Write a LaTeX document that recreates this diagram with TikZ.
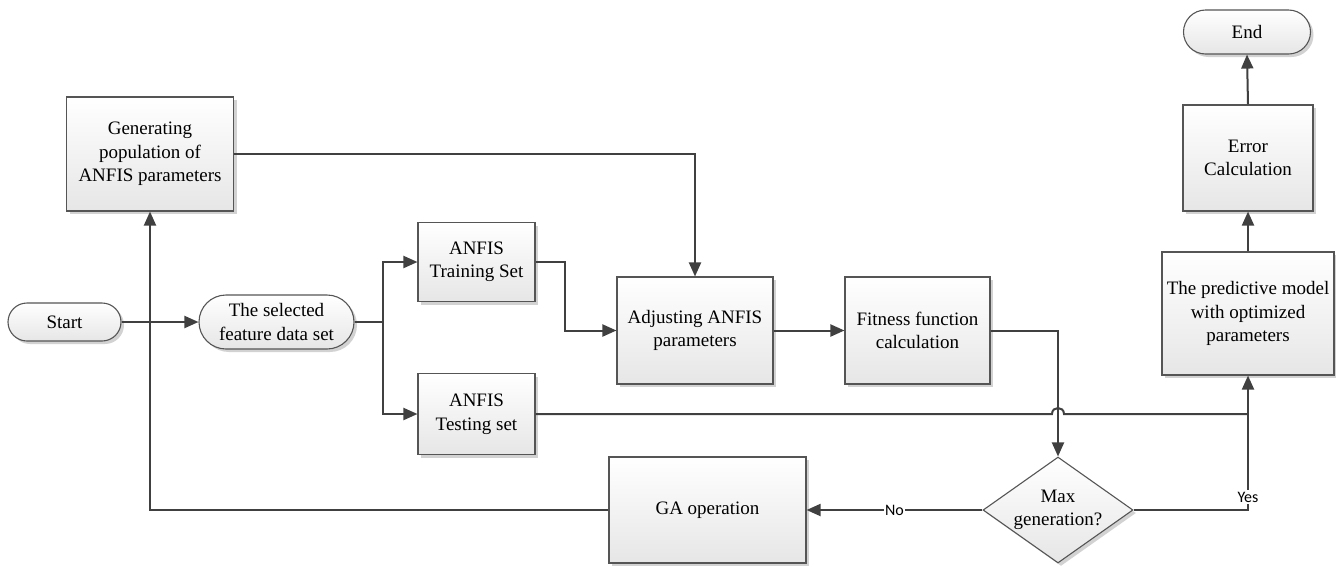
\documentclass[tikz,border=0pt]{standalone}
\usepackage{fontspec}
\setmainfont{Liberation Serif}
\newfontfamily\serifbody{Liberation Serif}
\newfontfamily\labelfont{Carlito}
\usetikzlibrary{arrows.meta,shapes.geometric,shadows}

\definecolor{boxline}{HTML}{555555}
\definecolor{boxfill}{HTML}{E6E6E6}
\definecolor{linecol}{HTML}{404040}

\tikzset{
  base/.style={draw=boxline, line width=1.1pt, top color=white, bottom color=boxfill,
    drop shadow={shadow xshift=3pt, shadow yshift=-3pt, fill=black!35, opacity=.5},
    align=center, inner sep=0pt, font=\serifbody\fontsize{19}{23.5}\selectfont},
  proc/.style={base, rectangle},
  term/.style={base, rectangle, rounded corners=#1},
  decision/.style={base, diamond, aspect=1.415},
  link/.style={line width=2pt, draw=linecol},
  arr/.style={link, -{Triangle[length=14pt,width=12pt]}},
  tag/.style={font=\labelfont\fontsize{16}{18}\selectfont, fill=white, inner sep=1.5pt, text=black}
}

\begin{document}
\begin{tikzpicture}[x=1pt, y=-1pt]
\useasboundingbox (0,0) rectangle (1336,566);

% process steps
\node[term=19pt, minimum width=113pt, minimum height=38pt] (start) at (64.5,322) {Start};
\node[term=27pt, minimum width=155pt, minimum height=54pt] (feat) at (276.5,322) {The selected\\feature data set};
\node[proc, minimum width=167pt, minimum height=114pt] (gen) at (150,154) {Generating\\population of\\ANFIS parameters};
\node[proc, minimum width=117pt, minimum height=79pt] (train) at (476.5,262) {ANFIS\\Training Set};
\node[proc, minimum width=117pt, minimum height=81pt] (test) at (476.5,414) {ANFIS\\Testing set};
\node[proc, minimum width=156pt, minimum height=107pt] (adj) at (695,330.5) {Adjusting ANFIS\\parameters};
\node[proc, minimum width=145pt, minimum height=107pt] (fit) at (917.5,330.5) {Fitness function\\calculation};
\node[decision, minimum width=150pt, minimum height=106pt] (dec) at (1058,510) {Max\\generation?};
\node[proc, minimum width=197pt, minimum height=106pt] (ga) at (707.5,510) {GA operation};
\node[proc, minimum width=172pt, minimum height=123pt] (pred) at (1248,313.5) {The predictive model\\with optimized\\parameters};
\node[proc, minimum width=130pt, minimum height=106pt] (err) at (1248,158) {Error\\Calculation};
\node[term=22pt, minimum width=127pt, minimum height=44pt] (end) at (1247,32) {End};

% data split
\coordinate (fk) at (383,322);
\draw[arr] (start.east) -- (feat.west);
\draw[link] (feat.east) -- (fk);
\draw[arr] (fk) |- (train.west);
\draw[arr] (fk) |- (test.west);

% training loop
\draw[arr] (train.east) -- ++(29,0) |- (adj.west);
\draw[arr] (gen.east) -| (adj.north);
\draw[arr] (adj.east) -- (fit.west);
\draw[arr] (fit.east) -| (dec.north);
\draw[arr] (dec.west) -- node[tag]{No} (ga.east);
\draw[arr] (ga.west) -| (gen.south);

% testing set line with a jump over the decision feed
\coordinate (cx) at (dec.north |- test.east);
\draw[link] (test.east) -- ([xshift=-6pt]cx)
  .. controls ([xshift=-6pt,yshift=8pt]cx) and ([xshift=6pt,yshift=8pt]cx) .. ([xshift=6pt]cx)
  -- (pred.south |- test.east);

% exit branch
\draw[arr] (dec.east) -| node[pos=0.5, tag, yshift=13pt]{Yes} (pred.south);
\draw[arr] (pred.north) -- (err.south);
\draw[arr] (err.north) -- (end.south);
\end{tikzpicture}
\end{document}
